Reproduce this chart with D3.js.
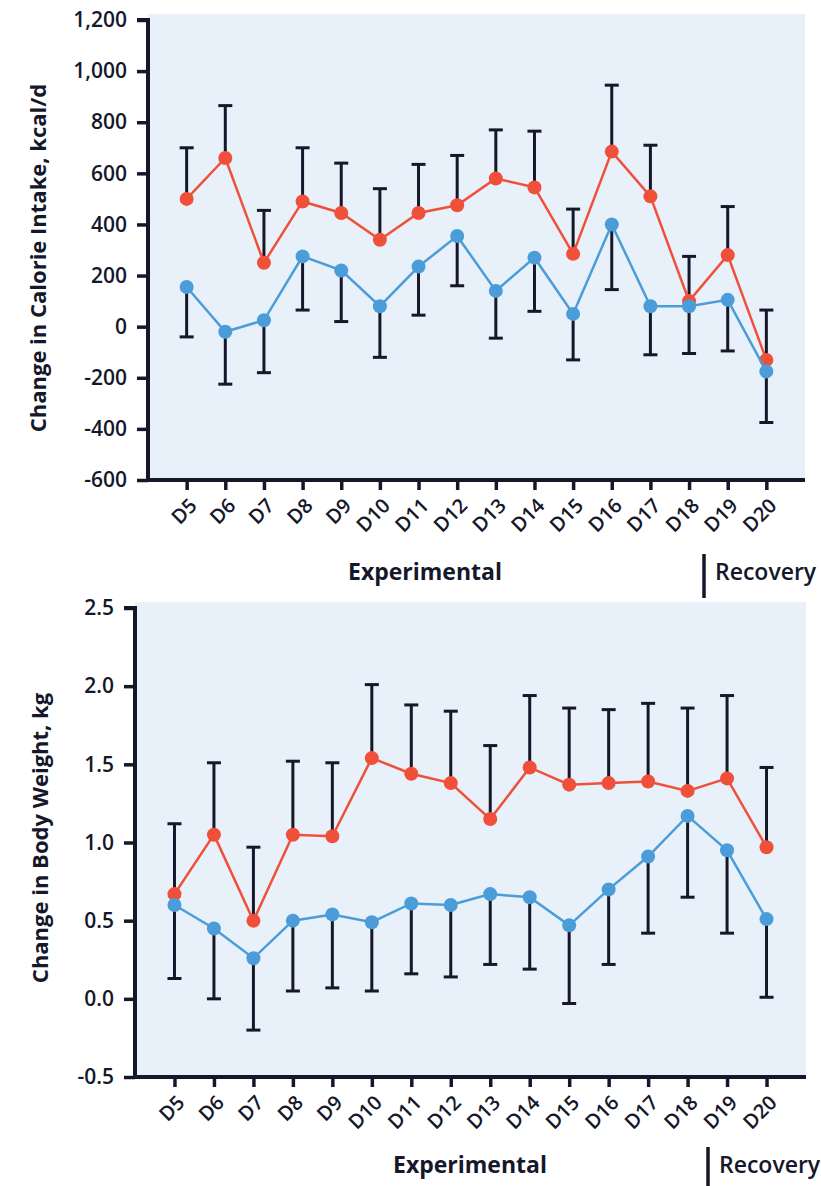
<!DOCTYPE html>
<html>
<head>
<meta charset="utf-8">
<script src="https://cdn.jsdelivr.net/npm/d3@7"></script>
<style>
  html, body { margin: 0; padding: 0; background: #ffffff; }
  svg { display: block; }
  text { font-family: "Open Sans", "Noto Sans", sans-serif; fill: #15172a; }
</style>
</head>
<body>
<svg id="chart" width="821" height="1186"></svg>
<script>
// Study days shown on both panels
const days = ["D5","D6","D7","D8","D9","D10","D11","D12","D13","D14","D15","D16","D17","D18","D19","D20"];

// Panel A: change in calorie intake (kcal/d)
const calorieRed      = [500, 660, 250, 490, 445, 340, 445, 475, 580, 545, 285, 685, 510, 100, 280, -130];
const calorieRedUpper = [700, 865, 455, 700, 640, 540, 635, 670, 770, 765, 460, 945, 710, 275, 470, 65];
const calorieBlue      = [155, -20, 25, 275, 220, 80, 235, 355, 140, 270, 50, 400, 80, 80, 105, -175];
const calorieBlueLower = [-40, -225, -180, 65, 20, -120, 45, 160, -45, 60, -130, 145, -110, -105, -95, -375];
const calorieTicks = [-600, -400, -200, 0, 200, 400, 600, 800, 1000, 1200];

// Panel B: change in body weight (kg)
const weightRed      = [0.67, 1.05, 0.50, 1.05, 1.04, 1.54, 1.44, 1.38, 1.15, 1.48, 1.37, 1.38, 1.39, 1.33, 1.41, 0.97];
const weightRedUpper = [1.12, 1.51, 0.97, 1.52, 1.51, 2.01, 1.88, 1.84, 1.62, 1.94, 1.86, 1.85, 1.89, 1.86, 1.94, 1.48];
const weightBlue      = [0.60, 0.45, 0.26, 0.50, 0.54, 0.49, 0.61, 0.60, 0.67, 0.65, 0.47, 0.70, 0.91, 1.17, 0.95, 0.51];
const weightBlueLower = [0.13, 0.00, -0.20, 0.05, 0.07, 0.05, 0.16, 0.14, 0.22, 0.19, -0.03, 0.22, 0.42, 0.65, 0.42, 0.01];
const weightTicks = [-0.5, 0.0, 0.5, 1.0, 1.5, 2.0, 2.5];

const RED = "#f0503a";
const BLUE = "#4a9dd8";
const INK = "#15172a";

const svg = d3.select("#chart");

// tick formatters using a plain hyphen for negatives
const fmtThousands = v => d3.format(",")(Math.abs(v)).replace(/^/, v < 0 ? "-" : "");
const fmtOneDecimal = v => (v < 0 ? "-" : "") + d3.format(".1f")(Math.abs(v));

function panel(opts) {
  const x = d3.scalePoint().domain(days).range([opts.x0, opts.x1]).padding(1);
  const y = d3.scaleLinear().domain(opts.domain).range([opts.yBottom, opts.yTop]);
  const g = svg.append("g");

  // shaded plotting area
  g.append("rect")
    .attr("x", opts.x0).attr("y", opts.yTop - 6)
    .attr("width", opts.x1 - opts.x0).attr("height", opts.yBottom - opts.yTop + 6)
    .attr("fill", "#e8f0f9");

  // y axis
  const yAxis = d3.axisLeft(y).tickValues(opts.ticks).tickFormat(opts.fmt).tickSize(11).tickPadding(10);
  const ya = g.append("g").attr("transform", `translate(${opts.x0},0)`).call(yAxis);
  ya.select(".domain").attr("stroke", INK).attr("stroke-width", 4)
    .attr("d", `M-11,${opts.yTop}H0V${opts.yBottom}`);
  ya.selectAll(".tick line").attr("stroke", INK).attr("stroke-width", 3.5);
  ya.selectAll(".tick text").attr("font-size", 21).attr("font-weight", 600).attr("fill", INK);

  // x axis
  const xAxis = d3.axisBottom(x).tickSize(10).tickPadding(6);
  const xa = g.append("g").attr("transform", `translate(0,${opts.yBottom})`).call(xAxis);
  xa.select(".domain").attr("stroke", INK).attr("stroke-width", 4)
    .attr("d", `M${opts.x0 - 2},0H${opts.x1}`);
  xa.selectAll(".tick line").attr("stroke", INK).attr("stroke-width", 3.5);
  xa.selectAll(".tick text")
    .attr("font-size", 20).attr("font-weight", 600).attr("fill", INK)
    .attr("text-anchor", "end")
    .attr("x", 0).attr("y", 0)
    .attr("dy", "0.35em")
    .attr("transform", "translate(6,22) rotate(-45)");

  // y axis title
  g.append("text")
    .attr("transform", `translate(${opts.titleX},${opts.titleY}) rotate(-90)`)
    .attr("text-anchor", "middle")
    .attr("font-size", 22).attr("font-weight", 700)
    .text(opts.title);

  // phase labels
  g.append("text").attr("x", opts.expX).attr("y", opts.phaseY)
    .attr("text-anchor", "middle").attr("font-size", 23).attr("font-weight", 700)
    .text("Experimental");
  g.append("line").attr("x1", opts.barX).attr("x2", opts.barX)
    .attr("y1", opts.phaseY - 26).attr("y2", opts.phaseY + 18)
    .attr("stroke", INK).attr("stroke-width", 3.5);
  g.append("text").attr("x", opts.barX + 11).attr("y", opts.phaseY)
    .attr("font-size", 23).attr("font-weight", 600)
    .text("Recovery");

  const series = [
    { vals: opts.red, ends: opts.redErr, color: RED },
    { vals: opts.blue, ends: opts.blueErr, color: BLUE }
  ];
  const line = d3.line().x((d, i) => x(days[i])).y(d => y(d));

  // error bars (one-sided: red upward, blue downward)
  series.forEach(s => {
    const eb = g.append("g");
    eb.selectAll("line.stem").data(s.vals).join("line")
      .attr("x1", (d, i) => x(days[i])).attr("x2", (d, i) => x(days[i]))
      .attr("y1", d => y(d)).attr("y2", (d, i) => y(s.ends[i]))
      .attr("stroke", INK).attr("stroke-width", 3);
    eb.selectAll("line.cap").data(s.ends).join("line")
      .attr("x1", (d, i) => x(days[i]) - 7).attr("x2", (d, i) => x(days[i]) + 7)
      .attr("y1", d => y(d)).attr("y2", d => y(d))
      .attr("stroke", INK).attr("stroke-width", 3);
  });

  series.forEach(s => {
    g.append("path").datum(s.vals).attr("d", line)
      .attr("fill", "none").attr("stroke", s.color).attr("stroke-width", 2.5);
    g.append("g").selectAll("circle").data(s.vals).join("circle")
      .attr("cx", (d, i) => x(days[i])).attr("cy", d => y(d))
      .attr("r", 7).attr("fill", s.color);
  });
}

panel({
  x0: 148, x1: 805, yTop: 20, yBottom: 480, domain: [-600, 1200],
  ticks: calorieTicks, fmt: fmtThousands,
  title: "Change in Calorie Intake, kcal/d", titleX: 46, titleY: 258,
  red: calorieRed, redErr: calorieRedUpper, blue: calorieBlue, blueErr: calorieBlueLower,
  expX: 425, phaseY: 580, barX: 704
});

panel({
  x0: 135, x1: 806, yTop: 608, yBottom: 1077, domain: [-0.5, 2.5],
  ticks: weightTicks, fmt: fmtOneDecimal,
  title: "Change in Body Weight, kg", titleX: 48, titleY: 838,
  red: weightRed, redErr: weightRedUpper, blue: weightBlue, blueErr: weightBlueLower,
  expX: 470, phaseY: 1173, barX: 708
});
</script>
</body>
</html>
